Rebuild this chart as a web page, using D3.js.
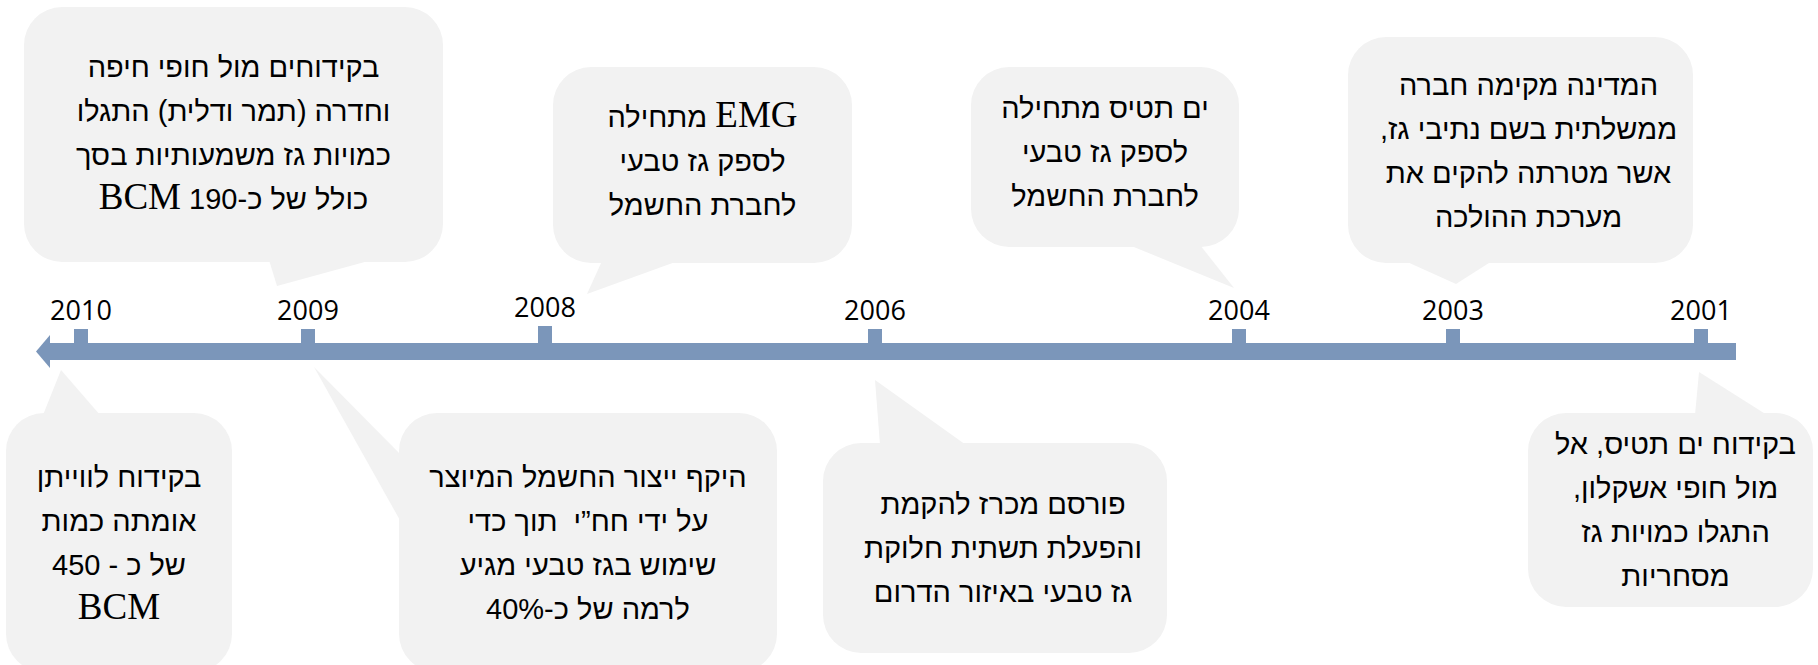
<!DOCTYPE html>
<html><head><meta charset="utf-8">
<script src="https://cdn.jsdelivr.net/npm/d3@7"></script>
<style>
html,body{margin:0;padding:0;background:#fff;}
svg{display:block;}
</style></head><body>
<svg id="chart" width="1818" height="665"></svg>
<script>
// ---------- data ----------
const years = [2010, 2009, 2008, 2006, 2004, 2003, 2001];
const yearLabels = ["2010", "2009", "2008", "2006", "2004", "2003", "2001"];
const eventYears = [2009, 2008, 2004, 2003, 2010, 2009, 2006, 2001];
const eventSides = ["top", "top", "top", "top", "bottom", "bottom", "bottom", "bottom"];
const eventTexts = [
  ["בקידוחים מול חופי חיפה", "וחדרה (תמר ודלית) התגלו", "כמויות גז משמעותיות בסך", "כולל של כ-190 BCM"],
  ["EMG מתחילה", "לספק גז טבעי", "לחברת החשמל"],
  ["ים תטיס מתחילה", "לספק גז טבעי", "לחברת החשמל"],
  ["המדינה מקימה חברה", "ממשלתית בשם נתיבי גז,", "אשר מטרתה להקים את", "מערכת ההולכה"],
  ["בקידוח לווייתן", "אומתה כמות", "של כ - 450", "BCM"],
  ["היקף ייצור החשמל המיוצר", "על ידי חח”י  תוך כדי", "שימוש בגז טבעי מגיע", "לרמה של כ-40%"],
  ["פורסם מכרז להקמת", "והפעלת תשתית חלוקת", "גז טבעי באיזור הדרום"],
  ["בקידוח ים תטיס, אל", "מול חופי אשקלון,", "התגלו כמויות גז", "מסחריות"]
];

// ---------- layout (not data) ----------
const tickPos = [81, 308, 545, 875, 1239, 1453, 1701];
const x = d3.scaleLinear().domain(years).range(tickPos);

const barColor = "#7b96ba";
const boxColor = "#f2f2f2";
const yearFont = "'Open Sans', 'Liberation Sans', sans-serif";
const sansFont = "'Liberation Sans', 'Open Sans', 'DejaVu Sans', sans-serif";
const serifFont = "'Liberation Serif', 'DejaVu Serif', serif";
const fontSize = 29, yearSize = 27, serifSize = 37, lineH = 44;

const boxLayout = [
  {dx0: -284, dx1: 135, y0: 7,   y1: 262, tail: "bottom", b0: -39, b1: 64,  tipDx: -31, tipY: 286, tdx: 0, tdy: -2},
  {dx0: 8,    dx1: 307, y0: 67,  y1: 263, tail: "bottom", b0: 57,  b1: 133, tipDx: 42,  tipY: 294, tdx: 0, tdy: -4},
  {dx0: -268, dx1: 0,   y0: 67,  y1: 247, tail: "bottom", b0: -110,b1: -39, tipDx: -5,  tipY: 288, tdx: 0, tdy: -5},
  {dx0: -105, dx1: 240, y0: 37,  y1: 263, tail: "bottom", b0: -48, b1: 39,  tipDx: 3,   tipY: 284, tdx: 8, tdy: 1},
  {dx0: -75,  dx1: 151, y0: 413, y1: 672, tail: "top",    b0: -38, b1: 19,  tipDx: -20, tipY: 370, tdx: 0, tdy: 0},
  {dx0: 91,   dx1: 469, y0: 413, y1: 672, tail: "left",   b0: 455, b1: 522, tipDx: 6,   tipY: 367, tdx: 0, tdy: 0},
  {dx0: -52,  dx1: 292, y0: 443, y1: 653, tail: "top",    b0: 5,   b1: 91,  tipDx: 0,   tipY: 380, tdx: 8, tdy: 0},
  {dx0: -173, dx1: 112, y0: 413, y1: 607, tail: "top",    b0: -6,  b1: 66,  tipDx: -2,  tipY: 372, tdx: 5, tdy: 0}
];
const radius = 38;

const svg = d3.select("#chart");

// ---------- callouts ----------
const events = eventYears.map((yr, i) => ({year: yr, side: eventSides[i], lines: eventTexts[i], L: boxLayout[i]}));

const g = svg.append("g").attr("class", "callouts");
events.forEach(ev => {
  const L = ev.L, cx = x(ev.year);
  const bx0 = cx + L.dx0, bx1 = cx + L.dx1;
  let pts;
  if (L.tail === "bottom") pts = [[cx + L.b0, L.y1 - 2], [cx + L.b1, L.y1 - 2], [cx + L.tipDx, L.tipY]];
  else if (L.tail === "top") pts = [[cx + L.b0, L.y0 + 2], [cx + L.b1, L.y0 + 2], [cx + L.tipDx, L.tipY]];
  else pts = [[bx0 + 2, L.b0], [bx0 + 2, L.b1], [cx + L.tipDx, L.tipY]];
  g.append("path").attr("d", d3.line()(pts) + "Z").attr("fill", boxColor);
  g.append("rect")
    .attr("x", bx0).attr("y", L.y0)
    .attr("width", bx1 - bx0).attr("height", L.y1 - L.y0)
    .attr("rx", radius).attr("ry", radius)
    .attr("fill", boxColor);

  const tcx = (bx0 + bx1) / 2 + L.tdx;
  const tcy = (L.y0 + L.y1) / 2 + L.tdy;
  const n = ev.lines.length;
  ev.lines.forEach((line, i) => {
    const t = g.append("text")
      .attr("x", tcx)
      .attr("y", tcy + (i - (n - 1) / 2) * lineH + 10)
      .attr("text-anchor", "middle")
      .attr("direction", "rtl")
      .style("white-space", "pre")
      .attr("font-family", sansFont)
      .attr("font-size", fontSize)
      .attr("fill", "#000");
    line.split(/(BCM|EMG)/).filter(s => s.length).forEach(part => {
      const sp = t.append("tspan").text(part);
      if (/^(BCM|EMG)$/.test(part)) sp.attr("font-family", serifFont).attr("font-size", serifSize);
    });
  });
});

// ---------- timeline axis ----------
const barY0 = 343, barY1 = 360, barMid = (barY0 + barY1) / 2;
const axisStart = 50, axisEnd = 1736;
svg.append("rect").attr("x", axisStart - 1).attr("y", barY0)
  .attr("width", axisEnd - axisStart + 1).attr("height", barY1 - barY0)
  .attr("fill", barColor);
svg.append("path")
  .attr("d", d3.line()([[axisStart, 335], [axisStart, 368], [36, barMid]]) + "Z")
  .attr("fill", barColor);

const raise = {2008: 3};
const ticks = svg.append("g");
years.forEach((yr, i) => {
  const r = raise[yr] || 0;
  ticks.append("rect")
    .attr("x", x(yr) - 7).attr("y", 329 - r)
    .attr("width", 14).attr("height", barY0 - 329 + r + 1)
    .attr("fill", barColor);
  ticks.append("text")
    .attr("x", x(yr)).attr("y", 320 - r)
    .attr("text-anchor", "middle")
    .attr("font-family", yearFont)
    .attr("font-size", yearSize)
    .attr("fill", "#000")
    .text(yearLabels[i]);
});
</script>
</body></html>
